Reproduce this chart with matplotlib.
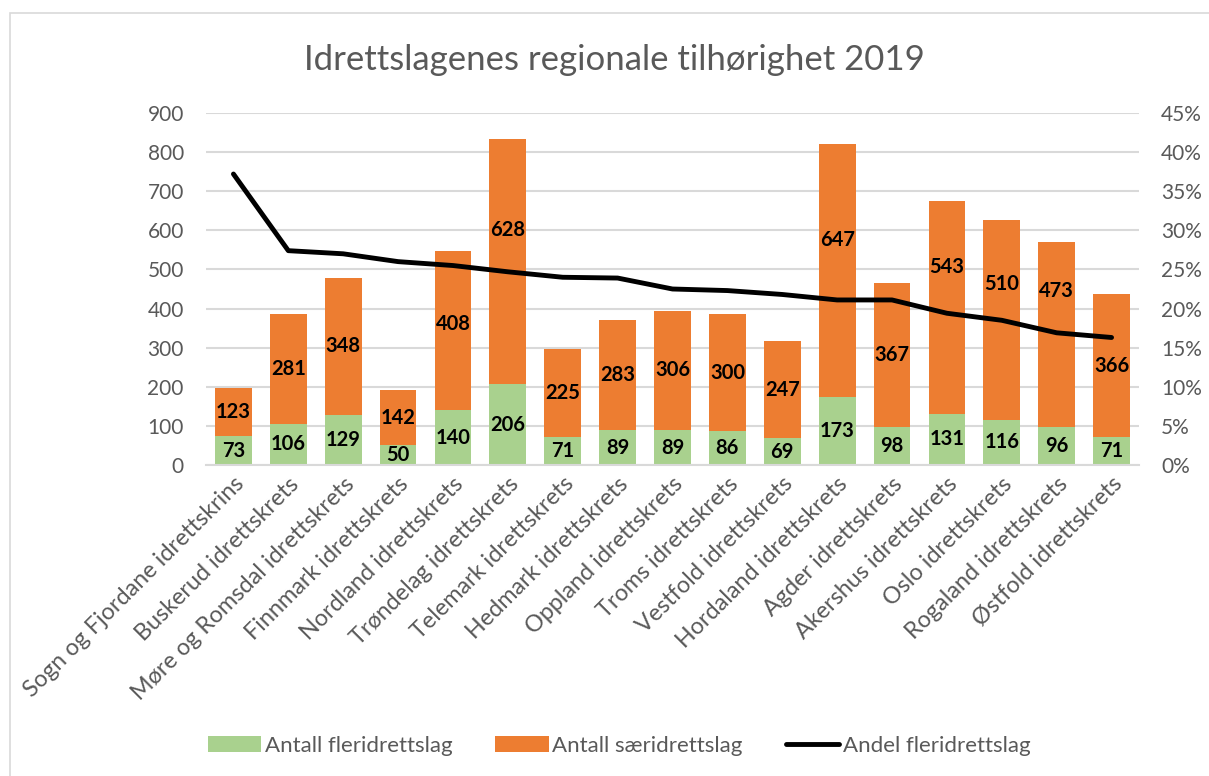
import numpy as np
import matplotlib.pyplot as plt
from matplotlib.patches import Rectangle
from matplotlib.ticker import PercentFormatter

plt.rcParams['font.family'] = ['Lato', 'DejaVu Sans']

kretser = ['Sogn og Fjordane idrettskrins', 'Buskerud idrettskrets',
           'Møre og Romsdal idrettskrets', 'Finnmark idrettskrets',
           'Nordland idrettskrets', 'Trøndelag idrettskrets',
           'Telemark idrettskrets', 'Hedmark idrettskrets',
           'Oppland idrettskrets', 'Troms idrettskrets',
           'Vestfold idrettskrets', 'Hordaland idrettskrets',
           'Agder idrettskrets', 'Akershus idrettskrets',
           'Oslo idrettskrets', 'Rogaland idrettskrets', 'Østfold idrettskrets']
fleridrett = [73, 106, 129, 50, 140, 206, 71, 89, 89, 86, 69, 173, 98, 131, 116, 96, 71]
saeridrett = [123, 281, 348, 142, 408, 628, 225, 283, 306, 300, 247, 647, 367, 543, 510, 473, 366]
andel = [37.2, 27.4, 27.0, 26.0, 25.5, 24.7, 24.0, 23.9, 22.5, 22.3, 21.8,
         21.1, 21.1, 19.4, 18.5, 16.9, 16.3]

# labels moved up (in points) where they would hit the line, like in the original
label_shift = {4: 5, 5: 23, 11: 22, 13: 29, 14: 26, 15: 32}

GREEN = '#a9d18e'
ORANGE = '#ed7d31'
GRAY = '#595959'
GRID = '#d9d9d9'

fig = plt.figure(figsize=(12.09, 7.76), dpi=100)
fig.patches.append(Rectangle((10 / 1209, -0.1), 1.2, 1.1 - 13 / 776, transform=fig.transFigure,
                             fill=False, edgecolor=GRID, linewidth=1.2))
ax = fig.add_axes([206 / 1209, 1 - 465 / 776, 933 / 1209, 352 / 776])
ax2 = ax.twinx()

x = np.arange(len(kretser))
b1 = ax.bar(x, fleridrett, width=0.67, color=GREEN, label='Antall fleridrettslag', zorder=2)
b2 = ax.bar(x, saeridrett, width=0.67, bottom=fleridrett, color=ORANGE,
            label='Antall særidrettslag', zorder=2)
for i in x:
    ax.text(i, fleridrett[i] / 2, str(fleridrett[i]), ha='center', va='center',
            fontsize=14.5, fontweight='bold', color='black', zorder=3)
    ax.annotate(str(saeridrett[i]), (i, fleridrett[i] + saeridrett[i] / 2),
                xytext=(0, label_shift.get(i, 0)), textcoords='offset points',
                ha='center', va='center', fontsize=14.5, fontweight='bold',
                color='black', zorder=3)
l1, = ax2.plot(x, andel, color='black', linewidth=3.5, label='Andel fleridrettslag',
               solid_capstyle='round')

ax.set_xlim(-0.5, len(kretser) - 0.5)
ax.set_ylim(0, 900)
ax.set_yticks(range(0, 901, 100))
ax2.set_ylim(0, 45)
ax2.set_yticks(range(0, 46, 5))
ax2.yaxis.set_major_formatter(PercentFormatter(decimals=0))

ax.grid(axis='y', color=GRID, linewidth=1.5, zorder=0)
ax.set_axisbelow(True)
for a in (ax, ax2):
    for s in a.spines.values():
        s.set_visible(False)
    a.tick_params(length=0, labelsize=15, labelcolor=GRAY, pad=16)
ax.spines['bottom'].set_visible(True)
ax.spines['bottom'].set_color(GRID)
ax.spines['bottom'].set_linewidth(1.5)
ax.tick_params(axis='x', pad=6, labelsize=16.8)

ax.set_xticks(x)
ax.set_xticklabels(kretser, rotation=45, ha='right', rotation_mode='anchor')

fig.text(0.508, 0.923, 'Idrettslagenes regionale tilhørighet 2019', ha='center', va='center',
         fontsize=25, color=GRAY)

fig.legend(handles=[b1, b2, l1], loc='center', bbox_to_anchor=(0.512, 0.039), ncol=3,
           frameon=False, fontsize=16, labelcolor=GRAY, handlelength=2.4,
           handletextpad=0.15, columnspacing=1.95)

fig.savefig('out.png', dpi=100)
